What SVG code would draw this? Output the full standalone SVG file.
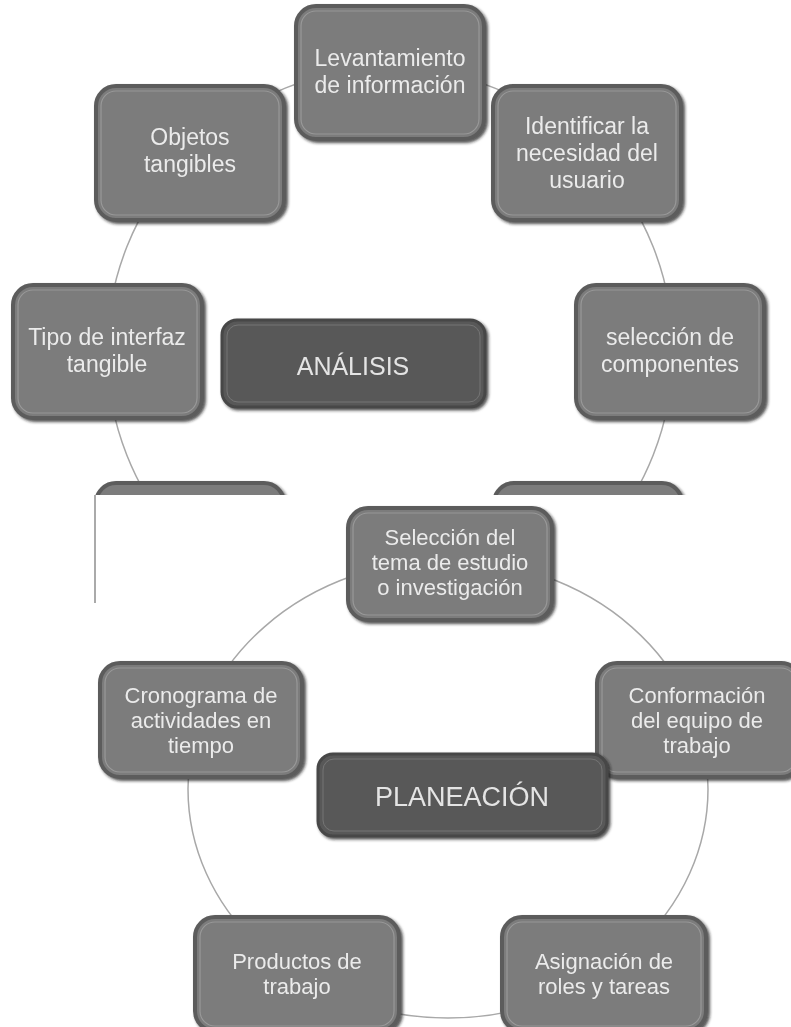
<svg xmlns="http://www.w3.org/2000/svg" width="791" height="1027" viewBox="0 0 791 1027">
<defs>
<style>
.box{fill:#7b7b7b;stroke:#5c5c5c;stroke-width:4}
.bev{fill:none;stroke:#a3a3a3;stroke-width:1.2;opacity:.75}
.hub{fill:#595959;stroke:#474747;stroke-width:3}
.hbev{fill:none;stroke:#7a7a7a;stroke-width:1;opacity:.8}
.t{font-family:"Liberation Sans",Arial,sans-serif;font-size:23px;fill:#ebebeb;text-anchor:middle}
.b{font-size:22px}
.ht{font-size:25px;fill:#e4e4e4}
.pt{font-size:27px;fill:#e4e4e4}
.link{fill:none;stroke:#a8a8a8;stroke-width:1.5}
.edge{fill:none;stroke:#8e8e8e;stroke-width:1.5}
</style>
<filter id="sh" x="-10%" y="-10%" width="125%" height="125%">
<feDropShadow dx="2" dy="2" stdDeviation="1.5" flood-color="#1e1e1e" flood-opacity="0.75"/>
</filter>
<clipPath id="topClip"><rect x="0" y="0" width="791" height="495"/></clipPath>
</defs>
<rect x="0" y="0" width="791" height="1027" fill="#ffffff"/>

<g id="connectors">
<circle class="link" cx="390" cy="351" r="283" clip-path="url(#topClip)"/>
<ellipse class="link" cx="448" cy="789" rx="260" ry="229"/>
<line class="edge" x1="95" y1="495" x2="95" y2="603"/>
</g>

<g id="analisis-section" clip-path="url(#topClip)">
<g id="n-levantamiento" filter="url(#sh)">
<rect class="box" x="296" y="6" width="188" height="133" rx="20"/>
<rect class="bev" x="301" y="11" width="178" height="123" rx="15"/>
<text class="t" x="390" y="66">Levantamiento</text>
<text class="t" x="390" y="93">de información</text>
</g>
<g id="n-identificar" filter="url(#sh)">
<rect class="box" x="493" y="86" width="188" height="134" rx="20"/>
<rect class="bev" x="498" y="91" width="178" height="124" rx="15"/>
<text class="t" x="587" y="134">Identificar la</text>
<text class="t" x="587" y="161">necesidad del</text>
<text class="t" x="587" y="188">usuario</text>
</g>
<g id="n-objetos" filter="url(#sh)">
<rect class="box" x="96" y="86" width="188" height="134" rx="20"/>
<rect class="bev" x="101" y="91" width="178" height="124" rx="15"/>
<text class="t" x="190" y="145">Objetos</text>
<text class="t" x="190" y="172">tangibles</text>
</g>
<g id="n-tipo" filter="url(#sh)">
<rect class="box" x="13" y="285" width="189" height="133" rx="20"/>
<rect class="bev" x="18" y="290" width="179" height="123" rx="15"/>
<text class="t" x="107" y="345">Tipo de interfaz</text>
<text class="t" x="107" y="372">tangible</text>
</g>
<g id="n-seleccion-componentes" filter="url(#sh)">
<rect class="box" x="576" y="285" width="188" height="133" rx="20"/>
<rect class="bev" x="581" y="290" width="178" height="123" rx="15"/>
<text class="t" x="670" y="345">selección de</text>
<text class="t" x="670" y="372">componentes</text>
</g>
<g id="n-partial-left" filter="url(#sh)">
<rect class="box" x="96" y="483" width="188" height="133" rx="20"/>
</g>
<g id="n-partial-right" filter="url(#sh)">
<rect class="box" x="494" y="483" width="188" height="133" rx="20"/>
</g>
<g id="n-analisis" filter="url(#sh)">
<rect class="hub" x="222" y="320" width="263" height="87" rx="15"/>
<rect class="hbev" x="227" y="325" width="253" height="77" rx="11"/>
<text class="t ht" x="353" y="375">ANÁLISIS</text>
</g>
</g>

<g id="planeacion-section">
<g id="n-seleccion-tema" filter="url(#sh)">
<rect class="box" x="348" y="508" width="204" height="112" rx="20"/>
<rect class="bev" x="353" y="513" width="194" height="102" rx="15"/>
<text class="t b" x="450" y="545">Selección del</text>
<text class="t b" x="450" y="570">tema de estudio</text>
<text class="t b" x="450" y="595">o investigación</text>
</g>
<g id="n-cronograma" filter="url(#sh)">
<rect class="box" x="100" y="663" width="202" height="114" rx="20"/>
<rect class="bev" x="105" y="668" width="192" height="104" rx="15"/>
<text class="t b" x="201" y="703">Cronograma de</text>
<text class="t b" x="201" y="728">actividades en</text>
<text class="t b" x="201" y="753">tiempo</text>
</g>
<g id="n-conformacion" filter="url(#sh)">
<rect class="box" x="597" y="663" width="204" height="114" rx="20"/>
<rect class="bev" x="602" y="668" width="194" height="104" rx="15"/>
<text class="t b" x="697" y="703">Conformación</text>
<text class="t b" x="697" y="728">del equipo de</text>
<text class="t b" x="697" y="753">trabajo</text>
</g>
<g id="n-planeacion" filter="url(#sh)">
<rect class="hub" x="318" y="754" width="289" height="82" rx="15"/>
<rect class="hbev" x="323" y="759" width="279" height="72" rx="11"/>
<text class="t pt" x="462" y="806">PLANEACIÓN</text>
</g>
<g id="n-productos" filter="url(#sh)">
<rect class="box" x="195" y="917" width="204" height="114" rx="20"/>
<rect class="bev" x="200" y="922" width="194" height="104" rx="15"/>
<text class="t b" x="297" y="969">Productos de</text>
<text class="t b" x="297" y="994">trabajo</text>
</g>
<g id="n-asignacion" filter="url(#sh)">
<rect class="box" x="502" y="917" width="204" height="114" rx="20"/>
<rect class="bev" x="507" y="922" width="194" height="104" rx="15"/>
<text class="t b" x="604" y="969">Asignación de</text>
<text class="t b" x="604" y="994">roles y tareas</text>
</g>
</g>
</svg>
